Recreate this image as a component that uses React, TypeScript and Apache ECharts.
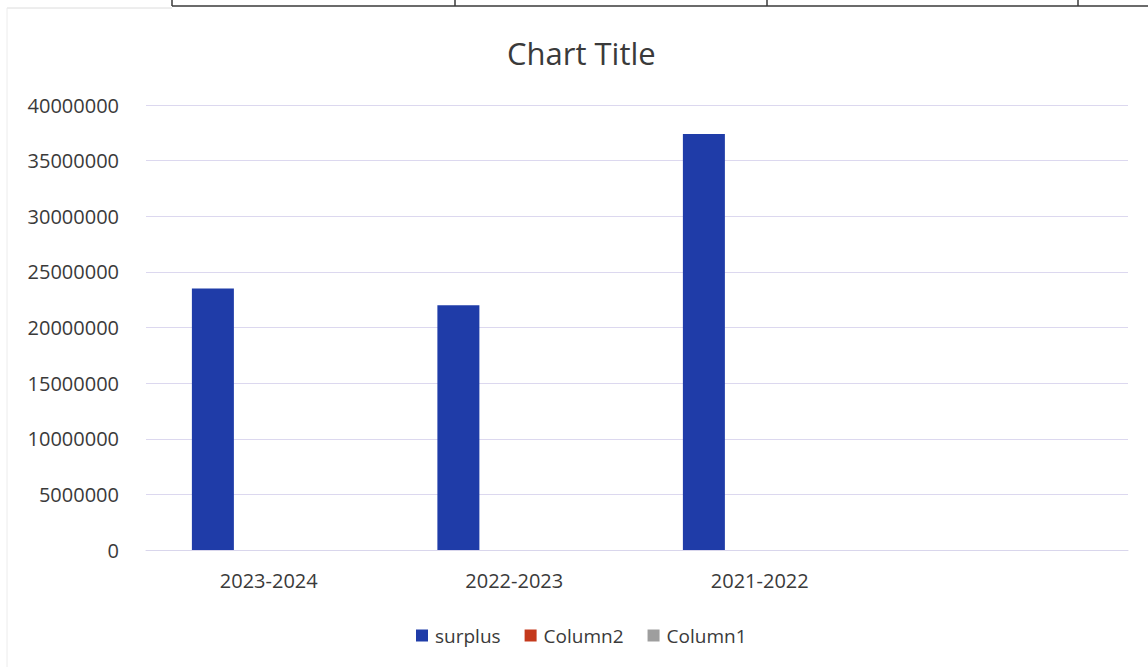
import React, { useEffect, useRef } from "react";
import * as echarts from "echarts";

const categories = ["2023-2024", "2022-2023", "2021-2022", ""];
const surplus = [23500000, 22000000, 37400000, null];
const column2: (number | null)[] = [null, null, null, null];
const column1: (number | null)[] = [null, null, null, null];
const seriesNames = ["surplus", "Column2", "Column1"];
const seriesColors = ["#1f3ca8", "#c4391c", "#9e9e9e"];
const yMin = 0;
const yMax = 40000000;
const yStep = 5000000;

const FONT = "'Open Sans', sans-serif";
const TEXT = "#3a3a3a";

export default function App() {
  const ref = useRef<HTMLDivElement>(null);
  useEffect(() => {
    document.body.style.margin = "0";
    const chart = echarts.init(ref.current!, null, { renderer: "svg" });
    const data = [surplus, column2, column1];
    const dark = { stroke: "#3a3a3a", lineWidth: 1.5 };
    chart.setOption({
      animation: false,
      backgroundColor: "#ffffff",
      textStyle: { fontFamily: FONT },
      title: {
        text: "Chart Title",
        left: 502,
        top: 32,
        textStyle: { fontFamily: FONT, fontSize: 31, fontWeight: "normal", color: TEXT },
      },
      legend: {
        left: 411,
        top: 621,
        itemWidth: 12,
        itemHeight: 12,
        itemGap: 24,
        icon: "rect",
        data: seriesNames,
        textStyle: { fontFamily: FONT, fontSize: 19, color: TEXT, padding: [0, 0, 0, 2] },
      },
      grid: { left: 146, right: 20, top: 105, bottom: 117, containLabel: false },
      xAxis: {
        type: "category",
        data: categories,
        axisTick: { show: false },
        axisLine: { show: true, lineStyle: { color: "#d9d6ec", width: 1 } },
        axisLabel: { fontFamily: FONT, fontSize: 20, color: TEXT, margin: 20 },
      },
      yAxis: {
        type: "value",
        min: yMin,
        max: yMax,
        interval: yStep,
        axisLine: { show: false },
        axisTick: { show: false },
        splitLine: { lineStyle: { color: "#dcd8ef", width: 1 } },
        axisLabel: {
          fontFamily: FONT,
          fontSize: 20,
          color: TEXT,
          margin: 27,
          formatter: (v: number) => String(v),
        },
      },
      series: seriesNames.map((name, i) => ({
        name,
        type: "bar",
        data: data[i],
        barWidth: 42,
        barGap: "33%",
        itemStyle: { color: seriesColors[i] },
      })),
      graphic: [
        { type: "line", shape: { x1: 172, y1: 6, x2: 1148, y2: 6 }, style: dark },
        { type: "line", shape: { x1: 172, y1: 0, x2: 172, y2: 6 }, style: dark },
        { type: "line", shape: { x1: 455, y1: 0, x2: 455, y2: 6 }, style: dark },
        { type: "line", shape: { x1: 767, y1: 0, x2: 767, y2: 6 }, style: dark },
        { type: "line", shape: { x1: 1078, y1: 0, x2: 1078, y2: 6 }, style: dark },
        { type: "line", shape: { x1: 7, y1: 8, x2: 172, y2: 8 }, style: { stroke: "#dcdcdc", lineWidth: 1 } },
        { type: "line", shape: { x1: 7, y1: 8, x2: 7, y2: 667 }, style: { stroke: "#ececec", lineWidth: 1 } },
      ],
    });
    return () => chart.dispose();
  }, []);
  return <div ref={ref} style={{ width: 1148, height: 667 }} />;
}
